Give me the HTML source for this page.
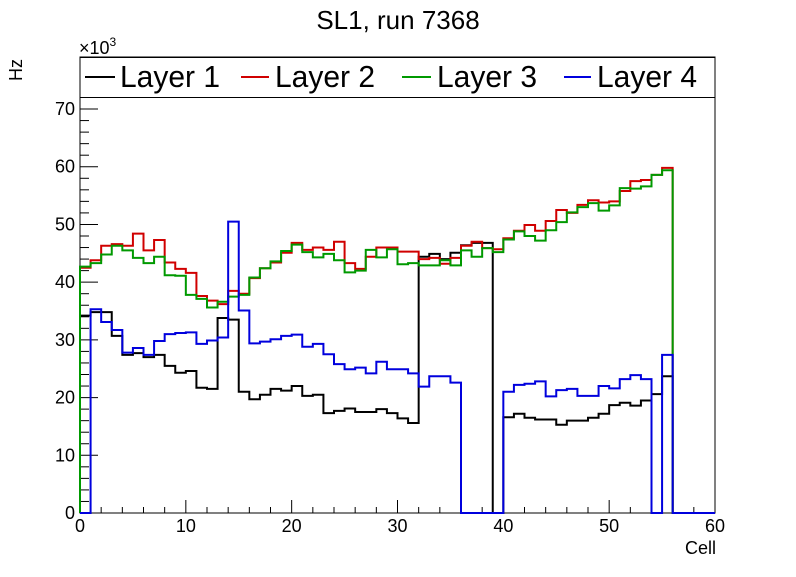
<!DOCTYPE html>
<html><head><meta charset="utf-8"><style>
body{margin:0;background:#fff;width:796px;height:572px;overflow:hidden}
svg{font-family:"Liberation Sans",sans-serif}
</style></head><body>
<svg id="chart" width="796" height="572" viewBox="0 0 796 572">
<rect width="796" height="572" fill="#fff"/>
<text x="398" y="29" font-size="26" text-anchor="middle">SL1, run 7368</text>
<text x="22" y="70" font-size="18" text-anchor="middle" transform="rotate(-90 22 70)">Hz</text>
<text x="79" y="54" font-size="18">×10<tspan dy="-8" font-size="12">3</tspan></text>
<text x="716" y="554" font-size="18" text-anchor="end">Cell</text>
<g id="axes"></g>
<g id="series"></g>
<g>
<rect x="80" y="57.5" width="635" height="40" fill="#fff" stroke="#000" stroke-width="1"/>
<line x1="85" y1="77" x2="115" y2="77" stroke="#000" stroke-width="2"/>
<text x="120" y="87" font-size="31" textLength="100" lengthAdjust="spacingAndGlyphs">Layer 1</text>
<line x1="241" y1="77" x2="269" y2="77" stroke="#d00000" stroke-width="2"/>
<text x="275" y="87" font-size="31" textLength="100" lengthAdjust="spacingAndGlyphs">Layer 2</text>
<line x1="402" y1="77" x2="431" y2="77" stroke="#009900" stroke-width="2"/>
<text x="437" y="87" font-size="31" textLength="100" lengthAdjust="spacingAndGlyphs">Layer 3</text>
<line x1="564" y1="77" x2="591" y2="77" stroke="#0000dd" stroke-width="2"/>
<text x="597" y="87" font-size="31" textLength="100" lengthAdjust="spacingAndGlyphs">Layer 4</text>
</g>
</svg>
<script>
const xTicks=[0,10,20,30,40,50,60];
const yTicks=[0,10,20,30,40,50,60,70];
const layer1=[34.2,34.8,34.8,30.7,27.4,27.7,27.0,27.4,25.5,24.3,24.6,21.7,21.5,33.8,33.5,21.0,19.7,20.5,21.5,21.2,22.0,20.3,20.5,17.3,17.7,18.1,17.5,17.5,18.0,17.3,16.4,15.6,44.4,44.9,44.0,45.1,46.4,46.8,46.8,0,16.6,17.2,16.5,16.2,16.2,15.3,16.0,16.0,16.5,17.2,18.7,19.1,18.6,19.5,20.6,23.7,0,0,0,0];
const layer2=[42.5,43.8,46.3,46.6,46.3,48.4,45.5,47.3,43.4,42.3,41.6,37.6,36.8,36.2,38.5,38.0,40.7,42.4,43.4,45.1,46.8,45.6,46.0,45.6,47.0,43.3,42.3,44.4,46.0,46.0,45.3,45.3,44.0,44.2,43.2,44.2,46.3,47.0,45.9,45.7,47.6,48.9,49.9,48.9,50.6,52.5,52.0,53.4,54.2,53.8,54.0,55.8,57.5,57.7,58.6,59.8,0,0,0,0];
const layer3=[42.7,43.3,44.8,46.3,45.5,44.2,43.3,44.4,41.2,41.1,37.8,37.1,35.6,36.6,37.5,37.8,40.8,42.4,43.6,45.4,46.5,45.2,44.3,44.9,43.8,41.7,42.0,45.6,44.3,45.7,43.1,43.3,42.9,42.9,43.8,42.9,45.5,44.4,45.9,45.2,47.4,48.8,48.0,47.2,49.0,50.4,52.1,53.0,53.7,52.4,53.3,56.3,56.2,56.6,58.6,59.4,0,0,0,0];
const layer4=[0,35.3,33.1,31.7,27.8,28.6,27.4,29.8,31.0,31.2,31.3,29.3,29.9,30.4,50.5,35.1,29.4,29.7,30.1,30.7,30.9,28.8,29.3,27.5,25.8,24.9,25.2,24.2,26.2,24.9,24.9,24.2,21.9,23.7,23.7,22.6,0,0,0,0,21.0,22.2,22.4,22.8,20.2,21.3,21.5,20.3,20.3,22.0,21.6,23.2,23.9,23.2,0,27.4,0,0,0,0];
const NS='http://www.w3.org/2000/svg';
const X0=80,X1=715,Y0=513,YT=57,xMax=60,yPx=5.771;
function sx(v){return X0+(X1-X0)*v/xMax;}
function sy(v){return Y0-v*yPx;}
const axes=document.getElementById('axes');
function mk(tag,attrs,parent){const e=document.createElementNS(NS,tag);for(const k in attrs)e.setAttribute(k,attrs[k]);parent.appendChild(e);return e;}
const frame=mk('rect',{x:X0,y:YT,width:X1-X0,height:Y0-YT,fill:'none',stroke:'#000','stroke-width':1},axes);


for(let v=0;v<=xMax;v+=2){const major=v%10===0;const t=mk('line',{x1:sx(v),x2:sx(v),y1:Y0,y2:Y0-(major?13:6),stroke:'#000'},axes);

}
for(let v=0;sy(v)>=YT;v+=2){const major=v%10===0;const t=mk('line',{x1:X0,x2:X0+(major?18:9),y1:sy(v),y2:sy(v),stroke:'#000'},axes);

}
xTicks.forEach(v=>{const t=mk('text',{x:sx(v),y:532,'font-size':18,'text-anchor':'middle'},axes);t.textContent=v;

});
yTicks.forEach(v=>{const t=mk('text',{x:75,y:sy(v)+6,'font-size':18,'text-anchor':'end'},axes);t.textContent=v;

});
const series=document.getElementById('series');
function hist(vals,color,name){let d='M'+sx(0)+','+sy(0);
vals.forEach((v,i)=>{d+=' L'+sx(i)+','+sy(v)+' L'+sx(i+1)+','+sy(v);});
d+=' L'+sx(vals.length)+','+sy(0);
const p=mk('path',{d:d,fill:'none',stroke:color,'stroke-width':2},series);

}
hist(layer1,'#000','series-layer-1');
hist(layer2,'#d00000','series-layer-2');
hist(layer3,'#009900','series-layer-3');
hist(layer4,'#0000dd','series-layer-4');
</script>
</body></html>
